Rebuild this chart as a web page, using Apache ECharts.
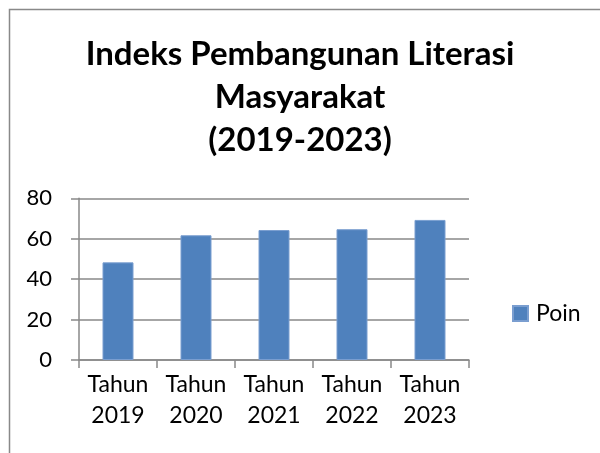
<!DOCTYPE html>
<html>
<head>
<meta charset="utf-8">
<script src="https://cdn.jsdelivr.net/npm/echarts@6/dist/echarts.min.js"></script>
<style>html,body{margin:0;padding:0;background:#fff}#c{width:600px;height:453px}</style>
</head>
<body>
<div id="c"></div>
<script>
const categories = ['Tahun\n2019', 'Tahun\n2020', 'Tahun\n2021', 'Tahun\n2022', 'Tahun\n2023'];
const poin = [48.3, 61.7, 64.3, 64.7, 69.3];
const yTicks = [0, 20, 40, 60, 80];

const chart = echarts.init(document.getElementById('c'));
chart.setOption({
  backgroundColor: '#fff',
  animation: false,
  title: {
    text: 'Indeks Pembangunan Literasi\nMasyarakat\n(2019-2023)',
    left: 'center',
    top: 28,
    textStyle: { fontFamily: 'Lato', fontSize: 33, fontWeight: 'bold', color: '#000', lineHeight: 43 }
  },
  graphic: [{
    type: 'rect',
    shape: { x: 9.5, y: 9.5, width: 620, height: 520 },
    style: { fill: 'none', stroke: '#898989', lineWidth: 1.5 },
    silent: true
  }],
  legend: {
    data: ['Poin'],
    left: 507,
    top: 297,
    icon: 'rect',
    itemWidth: 15,
    itemHeight: 15,
    textStyle: { fontFamily: 'Lato', fontSize: 23, color: '#000', padding: [0, 0, 0, 3] }
  },
  grid: { left: 79, top: 198.3, width: 390, height: 161.7, containLabel: false },
  xAxis: {
    type: 'category',
    data: categories,
    axisLine: { show: true, lineStyle: { color: '#898989', width: 1.5 } },
    axisTick: { show: true, length: 8, alignWithLabel: false, lineStyle: { color: '#898989', width: 1.5 } },
    axisLabel: { fontFamily: 'Lato', fontSize: 23, color: '#000', lineHeight: 31, margin: 9, interval: 0 }
  },
  yAxis: {
    type: 'value',
    min: 0,
    max: 80,
    interval: 20,
    axisLine: { show: true, lineStyle: { color: '#898989', width: 1.5 } },
    axisTick: { show: true, length: 8, lineStyle: { color: '#898989', width: 1.5 } },
    splitLine: { show: true, lineStyle: { color: '#898989', width: 1.5 } },
    axisLabel: {
      fontFamily: 'Lato', fontSize: 22, color: '#000', margin: 27,
      formatter: v => yTicks.includes(v) ? String(v) : ''
    }
  },
  series: [{
    name: 'Poin',
    type: 'bar',
    data: poin,
    barWidth: 31,
    itemStyle: { color: '#4F81BD', borderColor: '#7A9ED0', borderWidth: 1 }
  }]
});
</script>
</body>
</html>
